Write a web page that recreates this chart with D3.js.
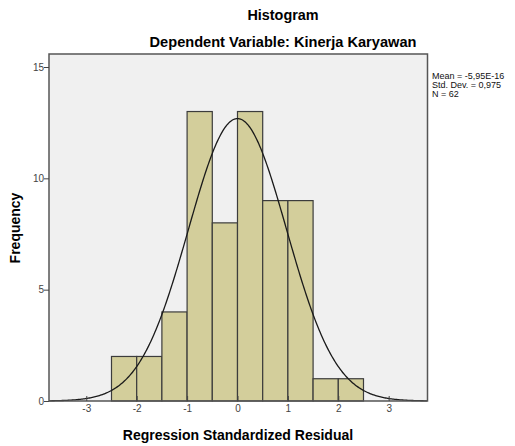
<!DOCTYPE html>
<html>
<head>
<meta charset="utf-8">
<script src="https://d3js.org/d3.v7.min.js"></script>
<style>
body { margin: 0; background: #fff; }
svg { font-family: "Liberation Sans", Arial, sans-serif; }
</style>
</head>
<body>
<div id="chart"></div>
<script>
// bin edges and counts
var binStart = [-2.5, -2, -1.5, -1, -0.5, 0, 0.5, 1, 1.5, 2];
var binWidth = 0.5;
var counts = [2, 2, 4, 13, 8, 13, 9, 9, 1, 1];
var xTicks = [-3, -2, -1, 0, 1, 2, 3];
var yTicks = [0, 5, 10, 15];
var mean = -5.95e-16, sd = 0.975, n = 62;
var statLines = ["Mean = -5,95E-16", "Std. Dev. = 0,975", "N = 62"];

var svg = d3.select("#chart").append("svg")
  .attr("width", 515).attr("height", 446);

var x = d3.scaleLinear().domain([-3.74, 3.77]).range([49, 427.5]);
var y = d3.scaleLinear().domain([0, 15]).range([401, 67]);

// plot background
svg.append("rect")
  .attr("x", 49).attr("y", 54)
  .attr("width", 378.5).attr("height", 347)
  .style("fill", "#f0f0f0");

// bars
svg.selectAll(".bar")
  .data(counts)
  .enter().append("rect")
  .attr("class", "bar")
  .attr("x", function(d, i) { return x(binStart[i]); })
  .attr("y", function(d) { return y(d); })
  .attr("width", function(d, i) { return x(binStart[i] + binWidth) - x(binStart[i]); })
  .attr("height", function(d) { return y(0) - y(d); })
  .style("fill", "#d3ce9b")
  .style("stroke", "#3c3c3c")
  .style("stroke-width", 1.2);

// normal curve
var pts = d3.range(-3.74, 3.77, 0.02).map(function(v) {
  var z = (v - mean) / sd;
  return [v, n * binWidth * Math.exp(-0.5 * z * z) / (sd * Math.sqrt(2 * Math.PI))];
});
svg.append("path")
  .datum(pts)
  .attr("d", d3.line().x(function(d) { return x(d[0]); }).y(function(d) { return y(d[1]); }))
  .style("fill", "none")
  .style("stroke", "#1a1a1a")
  .style("stroke-width", 1.3);

// frame
svg.append("rect")
  .attr("x", 49).attr("y", 54)
  .attr("width", 378.5).attr("height", 347)
  .style("fill", "none")
  .style("stroke", "#555")
  .style("stroke-width", 1.5);

// axes
var xAxis = svg.append("g")
  .attr("transform", "translate(0,401)")
  .call(d3.axisBottom(x).tickValues(xTicks).tickSize(5).tickFormat(function(d) { return String(d); }));
var yAxis = svg.append("g")
  .attr("transform", "translate(49,0)")
  .call(d3.axisLeft(y).tickValues(yTicks).tickSize(5));
[xAxis, yAxis].forEach(function(a) {
  a.select(".domain").remove();
  a.selectAll("line").style("stroke", "#444");
  a.selectAll("text").style("font-size", "10px").style("fill", "#444")
    .style("font-family", "Liberation Sans, Arial, sans-serif");
});
xAxis.selectAll("line").attr("y1", -5).attr("y2", 0);
xAxis.selectAll("text").attr("y", 4);
yAxis.selectAll("text").attr("x", -5);

// titles
svg.append("text").attr("x", 283).attr("y", 20)
  .attr("text-anchor", "middle").style("font-size", "14.4px").style("font-weight", "bold")
  .text("Histogram");
svg.append("text").attr("x", 283).attr("y", 47)
  .attr("text-anchor", "middle").style("font-size", "14.6px").style("font-weight", "bold")
  .text("Dependent Variable: Kinerja Karyawan");
svg.append("text").attr("x", 238).attr("y", 440)
  .attr("text-anchor", "middle").style("font-size", "14px").style("font-weight", "bold")
  .text("Regression Standardized Residual");
svg.append("text")
  .attr("transform", "translate(20,228) rotate(-90)")
  .attr("text-anchor", "middle").style("font-size", "14px").style("font-weight", "bold")
  .text("Frequency");

// stats box
svg.selectAll(".stat")
  .data(statLines)
  .enter().append("text")
  .attr("class", "stat")
  .attr("x", 432)
  .attr("y", function(d, i) { return 79 + i * 9; })
  .style("font-size", "9px")
  .style("fill", "#111")
  .text(function(d) { return d; });
</script>
</body>
</html>
